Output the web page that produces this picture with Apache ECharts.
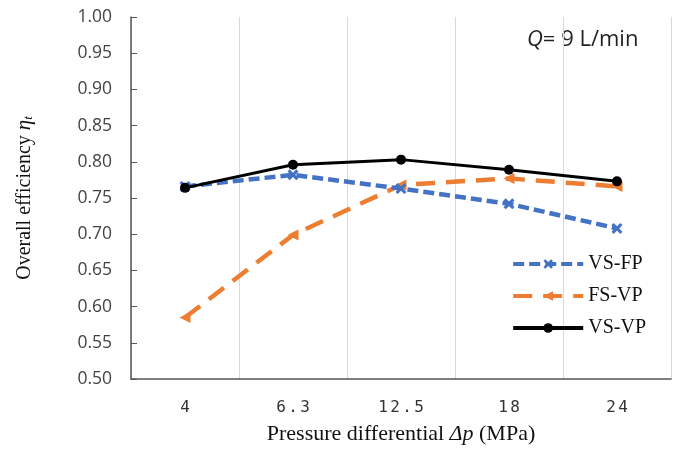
<!DOCTYPE html>
<html><head><meta charset="utf-8">
<script src="https://cdn.jsdelivr.net/npm/echarts@6/dist/echarts.min.js"></script>
<style>html,body{margin:0;padding:0;background:#fff}#c{width:679px;height:450px}</style>
</head><body><div id="c"></div>
<script>
const categories = ['4', '6.3', '12.5', '18', '24'];
const vsFp = [0.766, 0.782, 0.763, 0.742, 0.708];
const fsVp = [0.585, 0.699, 0.768, 0.777, 0.766];
const vsVp = [0.764, 0.796, 0.803, 0.789, 0.773];
const yTicks = [0.50, 0.55, 0.60, 0.65, 0.70, 0.75, 0.80, 0.85, 0.90, 0.95, 1.00];

const crossPath = 'path://M2,0L5,3L8,0L10,2L7,5L10,8L8,10L5,7L2,10L0,8L3,5L0,2Z';
const chart = echarts.init(document.getElementById('c'));
chart.setOption({
  animation: false,
  grid: { left: 131, right: 8, top: 17, bottom: 68 },
  graphic: [{
    type: 'text', left: 527, top: 29,
    style: { rich: {
      q: { fontFamily: 'Open Sans', fontStyle: 'italic', fontSize: 22, fill: '#222' },
      t: { fontFamily: 'Open Sans', fontSize: 22, fill: '#222' }
    }, text: '{q|Q}{t|= 9 L/min}' }
  }],
  legend: {
    orient: 'vertical', right: 28, top: 249, itemWidth: 70, itemHeight: 12, itemGap: 12,
    lineStyle: { width: 4 },
    textStyle: { fontFamily: 'Liberation Serif', fontSize: 20, color: '#111' },
    data: ['VS-FP', 'FS-VP', 'VS-VP']
  },
  xAxis: {
    type: 'category', data: categories, boundaryGap: true,
    name: '{a|Pressure differential }{b|Δp}{a| (MPa)}', nameLocation: 'middle', nameGap: 44,
    nameTextStyle: { rich: {
      a: { fontFamily: 'Liberation Serif', fontSize: 22, color: '#111' },
      b: { fontFamily: 'Liberation Serif', fontStyle: 'italic', fontSize: 22, color: '#111' }
    } },
    axisLine: { lineStyle: { color: '#555', width: 1.5 } },
    axisTick: { show: false },
    axisLabel: { margin: 21, interval: 0, hideOverlap: false,
      rich: { c: { fontFamily: 'DejaVu Sans Mono', fontSize: 16, color: '#333', width: 12, align: 'center' } },
      formatter: v => v.split('').map(ch => '{c|' + ch + '}').join('') },
    splitLine: { show: true, interval: 0, lineStyle: { color: '#d9d9d9', width: 1 } }
  },
  yAxis: {
    type: 'value', min: 0.5, max: 1.0, interval: 0.05,
    name: '{a|Overall efficiency }{b|η}{s|t}', nameLocation: 'middle', nameGap: 96,
    nameTextStyle: { rich: {
      a: { fontFamily: 'Liberation Serif', fontSize: 20, color: '#111' },
      b: { fontFamily: 'Liberation Serif', fontStyle: 'italic', fontSize: 21, color: '#111' },
      s: { fontFamily: 'Liberation Serif', fontStyle: 'italic', fontSize: 13, color: '#111', padding: [8, 0, 0, 0] }
    } },
    axisLine: { show: true, lineStyle: { color: '#555', width: 1.5 } },
    axisTick: { show: true, inside: true, length: 6, lineStyle: { color: '#555' } },
    axisLabel: { fontFamily: 'Open Sans', fontSize: 17.5, color: '#444', margin: 19,
      formatter: v => { const t = yTicks.find(x => Math.abs(x - v) < 1e-6); return (t !== undefined ? t : v).toFixed(2); } },
    splitLine: { show: false }
  },
  series: [
    { name: 'VS-FP', type: 'line', data: vsFp, symbol: crossPath, symbolSize: 11,
      lineStyle: { color: '#4472C4', width: 4.5, type: [11, 5] },
      itemStyle: { color: '#4472C4' }, z: 3 },
    { name: 'FS-VP', type: 'line', data: fsVp, symbol: 'triangle', symbolSize: 11, symbolRotate: 90,
      lineStyle: { color: '#ED7D31', width: 4.5, type: [19, 11] },
      itemStyle: { color: '#ED7D31' }, z: 2 },
    { name: 'VS-VP', type: 'line', data: vsVp, symbol: 'circle', symbolSize: 10,
      lineStyle: { color: '#000', width: 3 },
      itemStyle: { color: '#000' }, z: 4 }
  ]
});
</script></body></html>
